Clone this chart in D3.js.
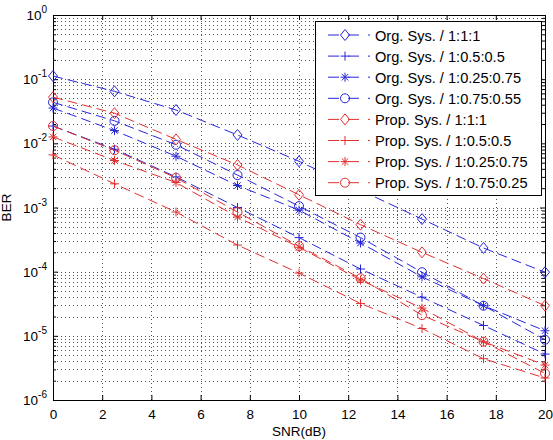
<!DOCTYPE html>
<html>
<head>
<meta charset="utf-8">
<script src="https://cdn.jsdelivr.net/npm/d3@7"></script>
<style>
  body { margin: 0; background: #fff; }
  svg { font-family: "Liberation Sans", Arial, sans-serif; }
</style>
</head>
<body>
<div id="myDiv"></div>
<script>
// SNR points (dB)
var snr = [0, 2.5, 5, 7.5, 10, 12.5, 15, 17.5, 20];

// BER per series
var orgEqual      = [0.112, 0.0646, 0.0331, 0.0135, 0.00525, 0.00186, 6.6e-4, 2.34e-4, 9.8e-5];
var orgHalf       = [0.0186, 0.0081, 0.0030, 0.0010, 3.4e-4, 1.1e-4, 4.0e-5, 1.45e-5, 5.2e-6];
var orgQuarter    = [0.0355, 0.0158, 0.0063, 0.0022, 9.1e-4, 2.8e-4, 8.3e-5, 2.95e-5, 1.2e-5];
var orgThreeQ     = [0.0436, 0.0224, 0.0095, 0.0032, 0.00105, 3.4e-4, 9.8e-5, 2.95e-5, 8.7e-6];
var propEqual     = [0.0525, 0.0295, 0.0115, 0.0046, 0.00158, 5.4e-4, 2.0e-4, 7.8e-5, 2.95e-5];
var propHalf      = [0.0066, 0.00234, 8.5e-4, 2.6e-4, 9.5e-5, 3.2e-5, 1.3e-5, 4.4e-6, 2.2e-6];
var propQuarter   = [0.0126, 0.0054, 0.00245, 7.1e-4, 2.4e-4, 7.4e-5, 2.7e-5, 8.1e-6, 3.5e-6];
var propThreeQ    = [0.0186, 0.0078, 0.0029, 8.5e-4, 2.5e-4, 7.9e-5, 2.1e-5, 8.1e-6, 2.6e-6];

var seriesNames = [
  'Org. Sys. / 1:1:1', 'Org. Sys. / 1:0.5:0.5', 'Org. Sys. / 1:0.25:0.75', 'Org. Sys. / 1:0.75:0.55',
  'Prop. Sys. / 1:1:1', 'Prop. Sys. / 1:0.5:0.5', 'Prop. Sys. / 1:0.25:0.75', 'Prop. Sys. / 1:0.75:0.25'
];
var seriesValues = [orgEqual, orgHalf, orgQuarter, orgThreeQ, propEqual, propHalf, propQuarter, propThreeQ];
var seriesMarkers = ['diamond', 'plus', 'star', 'circle', 'diamond', 'plus', 'star', 'circle'];

var xTicks = [0, 2, 4, 6, 8, 10, 12, 14, 16, 18, 20];
var yExponents = [0, -1, -2, -3, -4, -5, -6];

var xAxisTitle = 'SNR(dB)';
var yAxisTitle = 'BER';

//--------------------------------------------------
var blue = '#2626d9';
var red = '#e03030';
var seriesColors = [blue, blue, blue, blue, red, red, red, red];

var width = 553, height = 440;
var plot = {left: 53, right: 545, top: 15, bottom: 400};

var svg = d3.select('#myDiv').append('svg')
  .attr('width', width)
  .attr('height', height);

var x = d3.scaleLinear().domain([0, 20]).range([plot.left, plot.right]);
var y = d3.scaleLog().domain([1e-6, 1]).range([plot.bottom, plot.top]);

// minor + major log values
var logGrid = [];
for (var e = -6; e < 0; e++) {
  for (var k = 1; k <= 9; k++) logGrid.push(k * Math.pow(10, e));
}
logGrid.push(1);
var minorY = logGrid.filter(function(v) { return Math.abs(Math.log10(v) - Math.round(Math.log10(v))) > 1e-9; });

// dotted grid
var grid = svg.append('g').attr('stroke', '#555').attr('stroke-dasharray', '1,3').attr('stroke-width', 1);
grid.selectAll('line.gx')
  .data(xTicks.slice(1, -1))
  .enter().append('line')
    .attr('x1', function(d) { return Math.round(x(d)) + 0.5; })
    .attr('x2', function(d) { return Math.round(x(d)) + 0.5; })
    .attr('y1', plot.top)
    .attr('y2', plot.bottom);
grid.selectAll('line.gy')
  .data(logGrid.slice(1, -1))
  .enter().append('line')
    .attr('x1', plot.left)
    .attr('x2', plot.right)
    .attr('y1', function(d) { return Math.round(y(d)) + 0.5; })
    .attr('y2', function(d) { return Math.round(y(d)) + 0.5; });

// axes with inward ticks
function styleAxis(g) {
  g.select('.domain').remove();
  g.selectAll('line').attr('stroke', '#000');
  g.selectAll('text').attr('fill', '#000').style('font-size', '13.5px');
}

svg.append('g')
  .attr('transform', 'translate(0,' + plot.bottom + ')')
  .call(d3.axisBottom(x).tickValues(xTicks).tickSizeInner(-5).tickSizeOuter(0).tickPadding(9))
  .call(styleAxis);
svg.append('g')
  .attr('transform', 'translate(0,' + plot.top + ')')
  .call(d3.axisTop(x).tickValues(xTicks).tickSizeInner(-5).tickSizeOuter(0).tickFormat(''))
  .call(styleAxis);

svg.append('g')
  .attr('transform', 'translate(' + plot.left + ',0)')
  .call(d3.axisLeft(y).tickValues(yExponents.map(function(p) { return Math.pow(10, p); }))
    .tickSizeInner(-5).tickSizeOuter(0).tickFormat(''))
  .call(styleAxis);
svg.append('g')
  .attr('transform', 'translate(' + plot.left + ',0)')
  .call(d3.axisLeft(y).tickValues(minorY).tickSizeInner(-3).tickSizeOuter(0).tickFormat(''))
  .call(styleAxis);
svg.append('g')
  .attr('transform', 'translate(' + plot.right + ',0)')
  .call(d3.axisRight(y).tickValues(yExponents.map(function(p) { return Math.pow(10, p); }))
    .tickSizeInner(-5).tickSizeOuter(0).tickFormat(''))
  .call(styleAxis);
svg.append('g')
  .attr('transform', 'translate(' + plot.right + ',0)')
  .call(d3.axisRight(y).tickValues(minorY).tickSizeInner(-3).tickSizeOuter(0).tickFormat(''))
  .call(styleAxis);

// y tick labels 10^n
var yLabels = svg.append('g').style('font-size', '13.5px').attr('fill', '#000');
yExponents.forEach(function(p) {
  var t = yLabels.append('text')
    .attr('x', 47)
    .attr('y', y(Math.pow(10, p)) + 5)
    .attr('text-anchor', 'end');
  t.append('tspan').text('10');
  t.append('tspan').attr('dy', -7).style('font-size', '10px').text(p);
});

// box
svg.append('rect')
  .attr('x', plot.left + 0.5)
  .attr('y', plot.top + 0.5)
  .attr('width', plot.right - plot.left)
  .attr('height', plot.bottom - plot.top)
  .attr('fill', 'none')
  .attr('stroke', '#000');

// axis titles
svg.append('text')
  .attr('x', (plot.left + plot.right) / 2)
  .attr('y', 436)
  .attr('text-anchor', 'middle')
  .style('font-size', '13.5px')
  .text(xAxisTitle);
svg.append('text')
  .attr('transform', 'translate(11,' + ((plot.top + plot.bottom) / 2) + ') rotate(-90)')
  .attr('text-anchor', 'middle')
  .style('font-size', '13.5px')
  .text(yAxisTitle);

// marker paths
function markerPath(type) {
  var r = 4.5;
  if (type === 'diamond') return 'M0,' + (-5.5) + 'L' + r + ',0L0,5.5L' + (-r) + ',0Z';
  if (type === 'plus') return 'M' + (-r) + ',0H' + r + 'M0,' + (-r) + 'V' + r;
  if (type === 'star') {
    var a = r * 0.72;
    return 'M' + (-r) + ',0H' + r + 'M0,' + (-r) + 'V' + r +
      'M' + (-a) + ',' + (-a) + 'L' + a + ',' + a + 'M' + (-a) + ',' + a + 'L' + a + ',' + (-a);
  }
  return d3.arc()({innerRadius: 0, outerRadius: r, startAngle: 0, endAngle: 2 * Math.PI});
}

var line = d3.line()
  .x(function(d) { return x(d[0]); })
  .y(function(d) { return y(d[1]); });

var series = svg.append('g');
seriesValues.forEach(function(vals, i) {
  var pts = snr.map(function(s, j) { return [s, vals[j]]; });
  var g = series.append('g');
  g.append('path')
    .attr('d', line(pts))
    .attr('fill', 'none')
    .attr('stroke', seriesColors[i])
    .attr('stroke-width', 1)
    .attr('stroke-dasharray', '10,5');
  g.selectAll('path.m')
    .data(pts)
    .enter().append('path')
      .attr('transform', function(d) { return 'translate(' + x(d[0]) + ',' + y(d[1]) + ')'; })
      .attr('d', markerPath(seriesMarkers[i]))
      .attr('fill', 'none')
      .attr('stroke', seriesColors[i])
      .attr('stroke-width', 1);
});

// legend
var legend = svg.append('g').attr('transform', 'translate(315,21)');
legend.append('rect')
  .attr('x', 0.5).attr('y', 0.5)
  .attr('width', 226).attr('height', 174)
  .attr('fill', '#fff')
  .attr('stroke', '#000');
var rowHeight = 21.1;
seriesNames.forEach(function(name, i) {
  var cy = 14 + i * rowHeight;
  var row = legend.append('g').attr('transform', 'translate(0,' + cy + ')');
  row.append('line')
    .attr('x1', 13).attr('x2', 55)
    .attr('stroke', seriesColors[i])
    .attr('stroke-dasharray', '11,9');
  row.append('path')
    .attr('transform', 'translate(30,0)')
    .attr('d', markerPath(seriesMarkers[i]))
    .attr('fill', 'none')
    .attr('stroke', seriesColors[i]);
  row.append('text')
    .attr('x', 60)
    .attr('y', 5.5)
    .style('font-size', '14.6px')
    .attr('fill', '#000')
    .text(name);
});
</script>
</body>
</html>
